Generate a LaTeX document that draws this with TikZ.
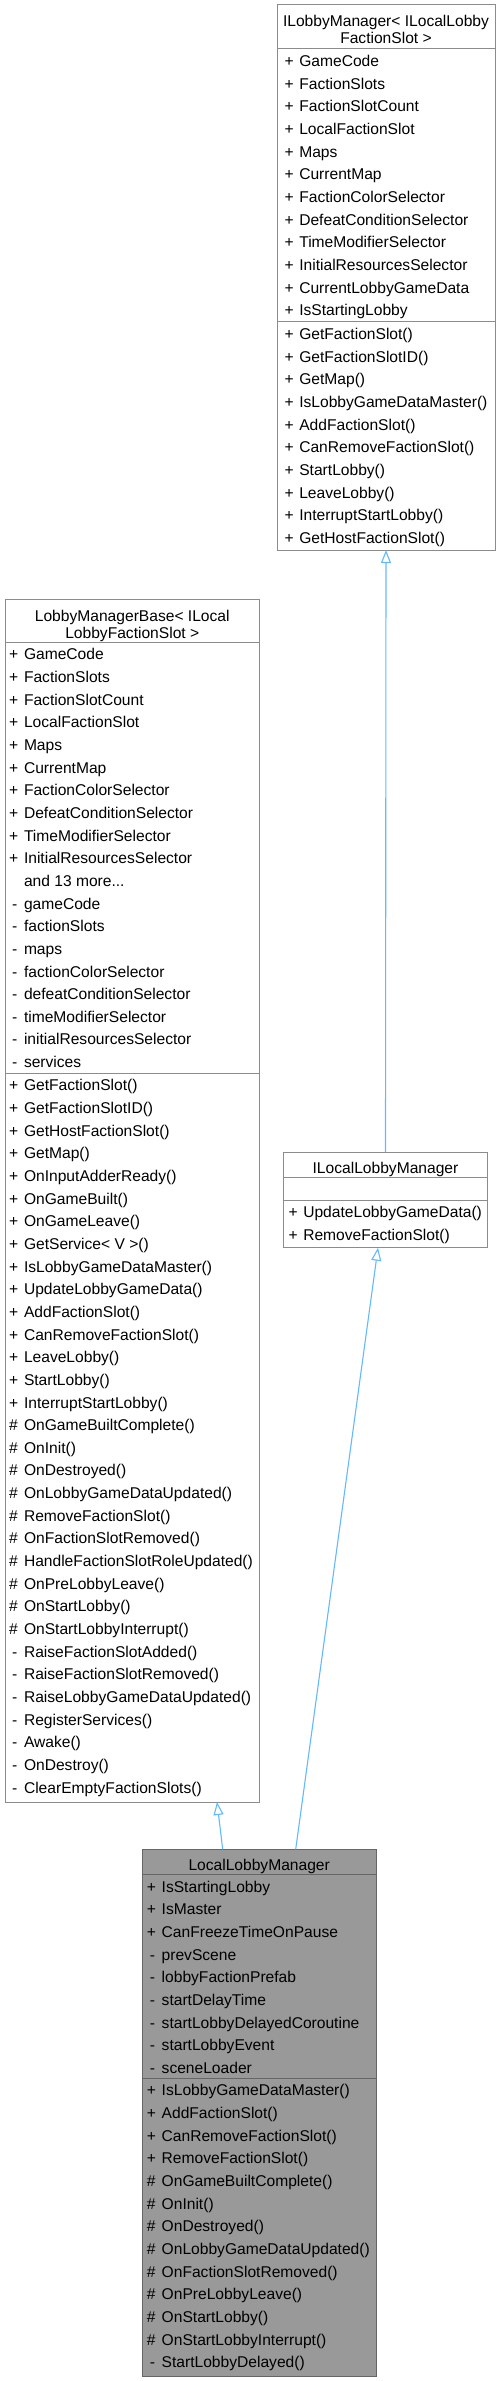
\documentclass[tikz,border=0pt]{standalone}
\usepackage{fontspec}
\setmainfont{Liberation Sans}
\usetikzlibrary{arrows.meta}
\definecolor{bordergray}{HTML}{8C8C8C}
\definecolor{curborder}{HTML}{666666}
\definecolor{fillgray}{HTML}{999999}
\definecolor{edgeblue}{HTML}{63B8FF}
\newcommand\symP{+}
\newcommand\symM{-}
\newcommand\symH{\#}
\newcommand\offP{14.8}
\newcommand\offM{11.8}
\newcommand\offH{14.8}
\newcommand\umlrows[4]{%
  \foreach \s/\n [count=\i from 0] in {#4} {
    \node[txt, anchor=base west] (#1s\i) at ({#2-\csname off\s\endcsname}, {#3+\i*22.65}) {\csname sym\s\endcsname};
    \node[txt, anchor=base west] (#1n\i) at (#2, {#3+\i*22.65}) {\n};
  }%
}
\begin{document}
\begin{tikzpicture}[x=1pt,y=-1pt,
  box/.style={draw=bordergray, fill=white, line width=1pt, inner sep=0pt, outer sep=0pt, anchor=north west},
  curbox/.style={box, draw=curborder, fill=fillgray},
  sepline/.style={draw=bordergray, line width=1pt},
  cursep/.style={draw=curborder, line width=1pt},
  txt/.style={inner sep=0pt, outer sep=0pt, font=\fontsize{15.6}{18}\selectfont, text=black},
  hdr/.style={txt, anchor=base},
  inh/.style={draw=edgeblue, line width=1.1pt, -{Triangle[length=13pt, width=10pt, fill=white]}}]
\useasboundingbox (0,0) rectangle (500,2381);

% ---------- boxes ----------
\node[box, minimum width=218pt, minimum height=545.5pt] (ilb) at (277,4.5) {};
\node[box, minimum width=254.5pt, minimum height=1203pt] (lmb) at (5,599) {};
\node[box, minimum width=204.4pt, minimum height=95.7pt] (ilm) at (283.3,1152) {};
\node[curbox, minimum width=233.7pt, minimum height=526.7pt] (llm) at (142.3,1849.3) {};

% ---------- separators ----------
\draw[sepline] (277,49) -- (495,49);
\draw[sepline] (277,322) -- (495,322);
\draw[sepline] (5,642.3) -- (259.5,642.3);
\draw[sepline] (5,1073.3) -- (259.5,1073.3);
\draw[sepline] (283.3,1177.3) -- (487.7,1177.3);
\draw[sepline] (283.3,1200) -- (487.7,1200);
\draw[cursep] (142.3,1874.7) -- (376,1874.7);
\draw[cursep] (142.3,2078.3) -- (376,2078.3);

% ---------- ILobbyManager ----------
\node[hdr] (ilbh1) at (386,26.5) {ILobbyManager< ILocalLobby};
\node[hdr] (ilbh2) at (386,43.2) {FactionSlot >};
\umlrows{ilba}{299.3}{66.6}{P/GameCode, P/FactionSlots, P/FactionSlotCount, P/LocalFactionSlot, P/Maps, P/CurrentMap, P/FactionColorSelector, P/DefeatConditionSelector, P/TimeModifierSelector, P/InitialResourcesSelector, P/CurrentLobbyGameData, P/IsStartingLobby}
\umlrows{ilbm}{299.3}{339.6}{P/GetFactionSlot(), P/GetFactionSlotID(), P/GetMap(), P/IsLobbyGameDataMaster(), P/AddFactionSlot(), P/CanRemoveFactionSlot(), P/StartLobby(), P/LeaveLobby(), P/InterruptStartLobby(), P/GetHostFactionSlot()}

% ---------- LobbyManagerBase ----------
\node[hdr] (lmbh1) at (132.25,621.7) {LobbyManagerBase< ILocal};
\node[hdr] (lmbh2) at (132.25,638.3) {LobbyFactionSlot >};
\umlrows{lmba}{24}{659.9}{P/GameCode, P/FactionSlots, P/FactionSlotCount, P/LocalFactionSlot, P/Maps, P/CurrentMap, P/FactionColorSelector, P/DefeatConditionSelector, P/TimeModifierSelector, P/InitialResourcesSelector}
\node[txt, anchor=base west] (lmbmore) at (24,886.4) {and 13 more...};
\umlrows{lmbp}{24}{909.05}{M/gameCode, M/factionSlots, M/maps, M/factionColorSelector, M/defeatConditionSelector, M/timeModifierSelector, M/initialResourcesSelector, M/services}
\umlrows{lmbm}{24}{1090.9}{P/GetFactionSlot(), P/GetFactionSlotID(), P/GetHostFactionSlot(), P/GetMap(), P/OnInputAdderReady(), P/OnGameBuilt(), P/OnGameLeave(), P/GetService< V >(), P/IsLobbyGameDataMaster(), P/UpdateLobbyGameData(), P/AddFactionSlot(), P/CanRemoveFactionSlot(), P/LeaveLobby(), P/StartLobby(), P/InterruptStartLobby(), H/OnGameBuiltComplete(), H/OnInit(), H/OnDestroyed(), H/OnLobbyGameDataUpdated(), H/RemoveFactionSlot(), H/OnFactionSlotRemoved(), H/HandleFactionSlotRoleUpdated(), H/OnPreLobbyLeave(), H/OnStartLobby(), H/OnStartLobbyInterrupt(), M/RaiseFactionSlotAdded(), M/RaiseFactionSlotRemoved(), M/RaiseLobbyGameDataUpdated(), M/RegisterServices(), M/Awake(), M/OnDestroy(), M/ClearEmptyFactionSlots()}

% ---------- ILocalLobbyManager ----------
\node[hdr] (ilmh) at (385.5,1173) {ILocalLobbyManager};
\umlrows{ilmm}{303.3}{1217.6}{P/UpdateLobbyGameData(), P/RemoveFactionSlot()}

% ---------- LocalLobbyManager ----------
\node[hdr] (llmh) at (259.2,1870.3) {LocalLobbyManager};
\umlrows{llma}{161.7}{1892.3}{P/IsStartingLobby, P/IsMaster, P/CanFreezeTimeOnPause, M/prevScene, M/lobbyFactionPrefab, M/startDelayTime, M/startLobbyDelayedCoroutine, M/startLobbyEvent, M/sceneLoader}
\umlrows{llmm}{161.7}{2095.9}{P/IsLobbyGameDataMaster(), P/AddFactionSlot(), P/CanRemoveFactionSlot(), P/RemoveFactionSlot(), H/OnGameBuiltComplete(), H/OnInit(), H/OnDestroyed(), H/OnLobbyGameDataUpdated(), H/OnFactionSlotRemoved(), H/OnPreLobbyLeave(), H/OnStartLobby(), H/OnStartLobbyInterrupt(), M/StartLobbyDelayed()}

% ---------- inheritance edges ----------
\draw[inh] (ilm.north) -- (ilb.south);
\draw[inh] ([xshift=80.4pt]llm.north west) -- ([xshift=212pt]lmb.south west);
\draw[inh] ([xshift=153.4pt]llm.north west) -- ([xshift=94.7pt]ilm.south west);
\end{tikzpicture}
\end{document}
